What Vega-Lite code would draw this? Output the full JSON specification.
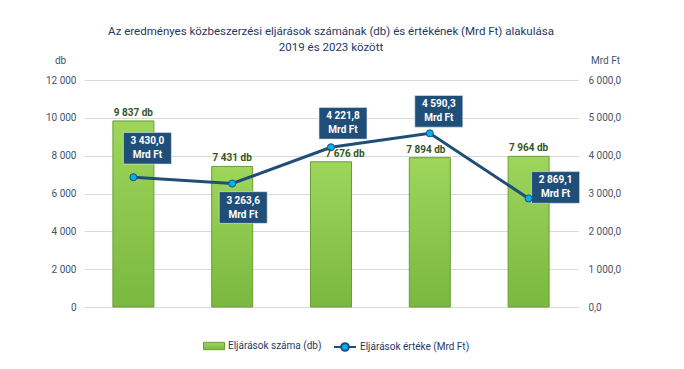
{
  "$schema": "https://vega.github.io/schema/vega-lite/v6.json",
  "width": 494,
  "height": 227,
  "autosize": {"type": "none"},
  "padding": {"left": 84, "top": 80, "right": 106, "bottom": 62},
  "background": "white",
  "config": {
    "locale": {"number": {"decimal": ",", "thousands": " ", "grouping": [3], "currency": ["", " db"]}},
    "font": "Roboto",
    "view": {"stroke": null}
  },
  "title": {
    "text": ["Az eredményes közbeszerzési eljárások számának (db) és értékének (Mrd Ft) alakulása", "2019 és 2023 között"],
    "font": "Roboto",
    "fontSize": 11.5,
    "fontWeight": "normal",
    "color": "#1F3864",
    "anchor": "middle",
    "frame": "group",
    "lineHeight": 16,
    "offset": 2
  },
  "data": {
    "values": [
      {"ev": "2019", "db": 9837, "mrd": 3430.0},
      {"ev": "2020", "db": 7431, "mrd": 3263.6},
      {"ev": "2021", "db": 7676, "mrd": 4221.8},
      {"ev": "2022", "db": 7894, "mrd": 4590.3},
      {"ev": "2023", "db": 7964, "mrd": 2869.1}
    ]
  },
  "layer": [
    {
      "encoding": {
        "x": {
          "field": "ev", "type": "nominal",
          "scale": {"paddingInner": 0.585, "paddingOuter": 0.2925},
          "axis": {"title": null, "labelAngle": 0, "labelFontSize": 10, "labelColor": "#404040", "labelFont": "Roboto", "domainColor": "#BFBFBF", "tickColor": "#BFBFBF", "tickSize": 5, "tickBand": "extent", "labelPadding": 4, "grid": false}
        },
        "y": {
          "field": "db", "type": "quantitative",
          "scale": {"domain": [0, 12000]},
          "axis": {"title": "db", "titleAngle": 0, "titleAlign": "center", "titleBaseline": "middle", "titleX": -24, "titleY": -20, "titleFontSize": 10, "titleFontWeight": "normal", "titleColor": "#44546A", "titleFont": "Roboto", "format": ",d", "values": [0, 2000, 4000, 6000, 8000, 10000, 12000], "labelFontSize": 10, "labelColor": "#44546A", "labelFont": "Roboto", "labelPadding": 8, "domain": false, "ticks": false, "grid": true, "gridColor": "#D9D9D9", "gridWidth": 1}
        }
      },
      "layer": [
        {
          "mark": {
            "type": "bar",
            "fill": {"gradient": "linear", "x1": 0, "y1": 0, "x2": 0, "y2": 1, "stops": [{"offset": 0, "color": "#9ED65C"}, {"offset": 1, "color": "#7AB83F"}]},
            "strokeWidth": 1
          },
          "encoding": {
            "stroke": {
              "datum": "Eljárások száma (db)",
              "scale": {"range": ["#6A9E34"]},
              "legend": {"orient": "none", "legendX": 119, "legendY": 255, "title": null, "symbolType": "M-1,-0.35H1V0.35H-1Z", "symbolSize": 441, "symbolFillColor": "#8CC63F", "symbolStrokeWidth": 1, "labelFontSize": 10, "labelColor": "#1F3864", "labelFont": "Roboto", "labelOffset": 3}
            }
          }
        }
      ]
    },
    {
      "encoding": {
        "x": {"field": "ev", "type": "nominal", "axis": null},
        "y": {
          "field": "mrd", "type": "quantitative",
          "scale": {"domain": [0, 6000]},
          "axis": {"orient": "right", "title": "Mrd Ft", "titleAngle": 0, "titleAlign": "center", "titleBaseline": "middle", "titleX": 27, "titleY": -20, "titleFontSize": 10, "titleFontWeight": "normal", "titleColor": "#44546A", "titleFont": "Roboto", "format": ",.1f", "values": [0, 1000, 2000, 3000, 4000, 5000, 6000], "labelFontSize": 10, "labelColor": "#44546A", "labelFont": "Roboto", "labelPadding": 10, "domain": false, "ticks": false, "grid": false}
        }
      },
      "layer": [
        {
          "mark": {"type": "line", "strokeWidth": 3},
          "encoding": {
            "color": {
              "datum": "Eljárások értéke (Mrd Ft)",
              "scale": {"range": ["#1F4E79"]},
              "legend": {"orient": "none", "legendX": 249, "legendY": 255, "title": null, "symbolType": "M-1,0H-0.35M0.35,0H1M0.35,0A0.35,0.35 0 1,1 -0.35,0A0.35,0.35 0 1,1 0.35,0Z", "symbolSize": 484, "symbolStrokeWidth": 2, "symbolFillColor": "#00B0F0", "labelFontSize": 10, "labelColor": "#1F3864", "labelFont": "Roboto", "labelOffset": 3}
            }
          }
        },
        {
          "transform": [{"filter": "datum.ev === '2019'"}],
          "layer": [
            {"mark": {"type": "point", "shape": "M-1,-0.66H1V0.66H-1Z", "size": 2304, "filled": true, "fill": "#1F4E79", "stroke": "#DEEBF7", "strokeWidth": 0.6, "opacity": 1, "xOffset": 14, "yOffset": -29}},
            {"mark": {"type": "text", "dx": 14, "dy": -36, "fontSize": 10, "fontWeight": "bold", "color": "white", "font": "Roboto"}, "encoding": {"text": {"field": "mrd", "type": "quantitative", "format": ",.1f"}}},
            {"mark": {"type": "text", "text": "Mrd Ft", "dx": 14, "dy": -22, "fontSize": 10, "fontWeight": "bold", "color": "white", "font": "Roboto"}}
          ]
        },
        {
          "transform": [{"filter": "datum.ev === '2020'"}],
          "layer": [
            {"mark": {"type": "point", "shape": "M-1,-0.66H1V0.66H-1Z", "size": 2304, "filled": true, "fill": "#1F4E79", "stroke": "#DEEBF7", "strokeWidth": 0.6, "opacity": 1, "xOffset": 11, "yOffset": 24}},
            {"mark": {"type": "text", "dx": 11, "dy": 17, "fontSize": 10, "fontWeight": "bold", "color": "white", "font": "Roboto"}, "encoding": {"text": {"field": "mrd", "type": "quantitative", "format": ",.1f"}}},
            {"mark": {"type": "text", "text": "Mrd Ft", "dx": 11, "dy": 31, "fontSize": 10, "fontWeight": "bold", "color": "white", "font": "Roboto"}}
          ]
        },
        {
          "transform": [{"filter": "datum.ev === '2021'"}],
          "layer": [
            {"mark": {"type": "point", "shape": "M-1,-0.66H1V0.66H-1Z", "size": 2304, "filled": true, "fill": "#1F4E79", "stroke": "#DEEBF7", "strokeWidth": 0.6, "opacity": 1, "xOffset": 12, "yOffset": -24}},
            {"mark": {"type": "text", "dx": 12, "dy": -31, "fontSize": 10, "fontWeight": "bold", "color": "white", "font": "Roboto"}, "encoding": {"text": {"field": "mrd", "type": "quantitative", "format": ",.1f"}}},
            {"mark": {"type": "text", "text": "Mrd Ft", "dx": 12, "dy": -17, "fontSize": 10, "fontWeight": "bold", "color": "white", "font": "Roboto"}}
          ]
        },
        {
          "transform": [{"filter": "datum.ev === '2022'"}],
          "layer": [
            {"mark": {"type": "point", "shape": "M-1,-0.66H1V0.66H-1Z", "size": 2304, "filled": true, "fill": "#1F4E79", "stroke": "#DEEBF7", "strokeWidth": 0.6, "opacity": 1, "xOffset": 9, "yOffset": -22}},
            {"mark": {"type": "text", "dx": 9, "dy": -29, "fontSize": 10, "fontWeight": "bold", "color": "white", "font": "Roboto"}, "encoding": {"text": {"field": "mrd", "type": "quantitative", "format": ",.1f"}}},
            {"mark": {"type": "text", "text": "Mrd Ft", "dx": 9, "dy": -15, "fontSize": 10, "fontWeight": "bold", "color": "white", "font": "Roboto"}}
          ]
        },
        {
          "transform": [{"filter": "datum.ev === '2023'"}],
          "layer": [
            {"mark": {"type": "point", "shape": "M-1,-0.66H1V0.66H-1Z", "size": 2304, "filled": true, "fill": "#1F4E79", "stroke": "#DEEBF7", "strokeWidth": 0.6, "opacity": 1, "xOffset": 27, "yOffset": -11}},
            {"mark": {"type": "text", "dx": 27, "dy": -18, "fontSize": 10, "fontWeight": "bold", "color": "white", "font": "Roboto"}, "encoding": {"text": {"field": "mrd", "type": "quantitative", "format": ",.1f"}}},
            {"mark": {"type": "text", "text": "Mrd Ft", "dx": 27, "dy": -4, "fontSize": 10, "fontWeight": "bold", "color": "white", "font": "Roboto"}}
          ]
        },
        {
          "mark": {"type": "point", "filled": true, "fill": "#00B0F0", "stroke": "#1F4E79", "strokeWidth": 1, "size": 50, "opacity": 1}
        }
      ]
    },
    {
      "encoding": {
        "x": {"field": "ev", "type": "nominal", "axis": null},
        "y": {"field": "db", "type": "quantitative", "scale": {"domain": [0, 12000]}, "axis": null}
      },
      "layer": [
        {
          "transform": [{"filter": "datum.ev !== '2021' && datum.ev !== '2022'"}],
          "mark": {"type": "text", "baseline": "bottom", "dy": -3, "fontSize": 10, "fontWeight": "bold", "color": "#375623", "font": "Roboto"},
          "encoding": {"text": {"field": "db", "type": "quantitative", "format": "$,d"}}
        },
        {
          "transform": [{"filter": "datum.ev === '2021'"}],
          "mark": {"type": "text", "baseline": "bottom", "dy": -3, "dx": 14, "fontSize": 10, "fontWeight": "bold", "color": "#375623", "font": "Roboto"},
          "encoding": {"text": {"field": "db", "type": "quantitative", "format": "$,d"}}
        },
        {
          "transform": [{"filter": "datum.ev === '2022'"}],
          "mark": {"type": "text", "baseline": "bottom", "dy": -3, "dx": -4, "fontSize": 10, "fontWeight": "bold", "color": "#375623", "font": "Roboto"},
          "encoding": {"text": {"field": "db", "type": "quantitative", "format": "$,d"}}
        }
      ]
    }
  ],
  "resolve": {"scale": {"y": "independent"}}
}
